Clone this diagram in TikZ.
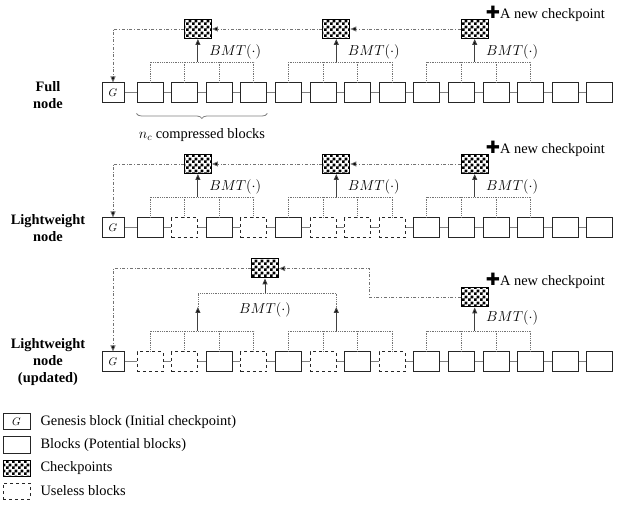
\documentclass[tikz,border=0pt]{standalone}
\usepackage{fontspec}
\setmainfont{Liberation Serif}
\newfontfamily\symfont{DejaVu Sans}
\usetikzlibrary{arrows.meta,patterns,decorations.pathreplacing,calc}

\pgfdeclarepatternformonly{bigcheck}{\pgfpointorigin}{\pgfqpoint{6pt}{6pt}}{\pgfqpoint{6pt}{6pt}}{%
  \pgfpathrectangle{\pgfpointorigin}{\pgfqpoint{3.05pt}{3.05pt}}%
  \pgfpathrectangle{\pgfqpoint{3pt}{3pt}}{\pgfqpoint{3.05pt}{3.05pt}}%
  \pgfusepath{fill}}

\tikzset{
  blk/.style={draw=black!85,line width=1pt,fill=white,minimum width=26pt,minimum height=20pt,inner sep=0pt},
  useless/.style={blk,dashed},
  gen/.style={blk,minimum width=22pt,font=\fontsize{11}{13}\selectfont},
  chk/.style={draw=black,line width=1pt,pattern=bigcheck,minimum width=27pt,minimum height=19pt,inner sep=0pt},
  link/.style={draw=black!50,line width=1pt},
  tree/.style={draw=black!55,densely dotted,line width=.8pt},
  up/.style={-{Triangle[length=6pt,width=5pt,fill=black]},draw=black!75,line width=1pt},
  back/.style={-{Triangle[length=6pt,width=5pt,fill=black]},draw=black!55,dash dot,line width=.8pt},
  rowlab/.style={font=\fontsize{14.4}{17}\selectfont\bfseries,align=center},
}

\begin{document}
\begin{tikzpicture}[x=1pt,y=-1pt,
    every node/.style={font=\fontsize{14.4}{17}\selectfont}]
  \useasboundingbox (0,0) rectangle (622,505);
  % three chains of blocks
  \foreach \row/\y/\kinds in {1/93/{blk,blk,blk,blk,blk,blk,blk,blk,blk,blk,blk,blk,blk,blk},
      2/228/{blk,useless,blk,useless,blk,useless,useless,useless,blk,blk,blk,blk,blk,blk},
      3/362/{useless,useless,blk,useless,blk,useless,blk,useless,blk,blk,blk,blk,blk,blk}}{
    \node[gen] (g\row) at (113,\y) {$G$};
    \foreach \k [count=\n] in \kinds
      \node[\k] (b\row-\n) at ({150+(\n-1)*34.6},\y) {};
    \coordinate (h\row) at (0,\y-31);
    \draw[link] (g\row) -- (b\row-1);
    \foreach \n [evaluate=\n as \m using int(\n+1)] in {1,...,13}
      \draw[link] (b\row-\n) -- (b\row-\m);
    % Merkle trees over groups of four blocks
    \foreach \t [evaluate=\t as \p using int(4*\t-3),
                 evaluate=\t as \pa using int(4*\t-2),
                 evaluate=\t as \pb using int(4*\t-1),
                 evaluate=\t as \q using int(4*\t)] in {1,2,3}{
      \draw[tree] (b\row-\p.north) -- (b\row-\p |- h\row) -- (b\row-\q |- h\row) -- (b\row-\q.north);
      \draw[tree] (b\row-\pa.north) -- (b\row-\pa |- h\row);
      \draw[tree] (b\row-\pb.north) -- (b\row-\pb |- h\row);
    }
  }
  % checkpoints of the full and lightweight node
  \foreach \row/\y in {1/93,2/228}{
    \foreach \t in {1,2,3}{
      \node[chk] (c\row-\t) at ({146+(4*\t-2.5)*34.6},\y-64) {};
      \draw[up] (c\row-\t |- h\row) -- (c\row-\t);
      \node[anchor=west] (m\row-\t) at ($(c\row-\t |- h\row)+(8,-10)$) {$BMT(\cdot)$};
    }
    \node[anchor=base west,inner sep=0pt] (n\row) at ($(c\row-3.north east)+(-3,0)$)
      {{\symfont\fontsize{17}{17}\selectfont ✚}A new checkpoint};
    \draw[back] (c\row-3) -- (c\row-2);
    \draw[back] (c\row-2) -- (c\row-1);
    \draw[back] (c\row-1.west) -| (g\row.north);
  }
  % updated lightweight node
  \coordinate (a1) at ({146+1.5*34.6},307);
  \coordinate (a2) at ({146+5.5*34.6},307);
  \draw[up] (a1 |- h3) -- (a1);
  \draw[up] (a2 |- h3) -- (a2);
  \draw[tree] (a1) -- ++(0,-14) coordinate (l2) -| (a2);
  \node[chk] (c3-0) at (265,268.5) {};
  \draw[up] (c3-0 |- l2) -- (c3-0);
  \node (m3-0) at (265,310) {$BMT(\cdot)$};
  \node[chk] (c3-3) at ({146+9.5*34.6},297.5) {};
  \draw[up] (c3-3 |- h3) -- (c3-3);
  \node[anchor=west] (m3-3) at ($(c3-3 |- h3)+(8,-13)$) {$BMT(\cdot)$};
  \node[anchor=base west,inner sep=0pt] (n3) at ($(c3-3.north east)+(-3,-2)$)
    {{\symfont\fontsize{17}{17}\selectfont ✚}A new checkpoint};
  \draw[back] (c3-3.west) -- ++(-91,0) |- (c3-0.east);
  \draw[back] (c3-0.west) -| (g3.north);
  % brace
  \draw[decorate,decoration={brace,mirror,amplitude=5pt},draw=black!50,line width=.8pt]
    ([yshift=-10pt]b1-1.south west) -- ([yshift=-10pt]b1-4.south east);
  \node (nc) at (202,135) {$n_c$ compressed blocks};
  % row labels
  \node[rowlab] (l1) at (48,95) {Full\\node};
  \node[rowlab] (l2t) at (48,228) {Lightweight\\node};
  \node[rowlab] (l3) at (48,362) {Lightweight\\node\\(updated)};
  % legend
  \node[gen,minimum width=27pt,minimum height=16pt] (lg) at (16.5,422) {$G$};
  \node[blk,minimum width=27pt,minimum height=16pt] (lb) at (16.5,445) {};
  \node[chk,minimum width=27pt,minimum height=16pt] (lc) at (16.5,468) {};
  \node[useless,minimum width=27pt,minimum height=16pt] (lu) at (16.5,491) {};
  \node[anchor=west] (tg) at (37,422) {Genesis block (Initial checkpoint)};
  \node[anchor=west] (tb) at (37,445) {Blocks (Potential blocks)};
  \node[anchor=west] (tc) at (37,468) {Checkpoints};
  \node[anchor=west] (tu) at (37,491) {Useless blocks};
\end{tikzpicture}
\end{document}
